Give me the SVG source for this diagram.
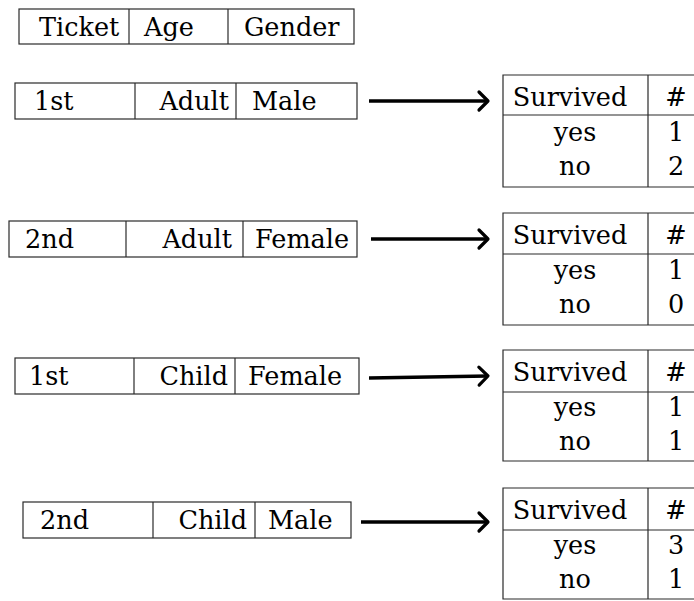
<svg xmlns="http://www.w3.org/2000/svg" width="694" height="601" viewBox="0 0 694 601">
<style>
  .b { fill: none; stroke: #2a2a2a; stroke-width: 1.2; }
  .t { font-family: "DejaVu Serif", "Liberation Serif", serif; font-size: 25.5px; fill: #000; }
  .m { text-anchor: middle; }
  .e { text-anchor: end; }
  .c { fill: none; stroke: #000; stroke-width: 3.4; }
</style>
<defs>
  <marker id="ah" markerUnits="userSpaceOnUse" markerWidth="16" markerHeight="24" refX="12" refY="12" orient="auto" viewBox="0 0 16 24">
    <path d="M3,3 Q9,9 12,12 Q9,15 3,21" fill="none" stroke="#000" stroke-width="3.2" stroke-linecap="round" stroke-linejoin="round"/>
  </marker>
</defs>
<rect width="694" height="601" fill="#fff"/>

<g id="header">
  <rect class="b" x="19" y="9" width="335" height="35"/>
  <line class="b" x1="129" y1="9" x2="129" y2="44"/>
  <line class="b" x1="228" y1="9" x2="228" y2="44"/>
  <text class="t" x="39" y="36">Ticket</text>
  <text class="t" x="144" y="36">Age</text>
  <text class="t" x="244" y="36">Gender</text>
</g>

<g id="row1">
  <rect class="b" x="15" y="83" width="342" height="36"/>
  <line class="b" x1="135" y1="83" x2="135" y2="119"/>
  <line class="b" x1="236" y1="83" x2="236" y2="119"/>
  <text class="t" x="34" y="110">1st</text>
  <text class="t e" x="229" y="110">Adult</text>
  <text class="t" x="252" y="110">Male</text>
</g>

<g id="row2">
  <rect class="b" x="9" y="221" width="348" height="36"/>
  <line class="b" x1="126" y1="221" x2="126" y2="257"/>
  <line class="b" x1="243" y1="221" x2="243" y2="257"/>
  <text class="t" x="25" y="248">2nd</text>
  <text class="t e" x="232" y="248">Adult</text>
  <text class="t" x="255" y="248">Female</text>
</g>

<g id="row3">
  <rect class="b" x="15" y="358" width="344" height="36"/>
  <line class="b" x1="134" y1="358" x2="134" y2="394"/>
  <line class="b" x1="235" y1="358" x2="235" y2="394"/>
  <text class="t" x="29" y="385">1st</text>
  <text class="t e" x="228" y="385">Child</text>
  <text class="t" x="248" y="385">Female</text>
</g>

<g id="row4">
  <rect class="b" x="23" y="502" width="328" height="36"/>
  <line class="b" x1="153" y1="502" x2="153" y2="538"/>
  <line class="b" x1="255" y1="502" x2="255" y2="538"/>
  <text class="t" x="40" y="529">2nd</text>
  <text class="t e" x="247" y="529">Child</text>
  <text class="t" x="268" y="529">Male</text>
</g>

<g id="table1">
  <path class="b" d="M700,75 H503 V187 H700 M503,115 H700 M648,75 V187"/>
  <text class="t m" x="570" y="106">Survived</text>
  <text class="t m" x="676" y="106">#</text>
  <text class="t m" x="575" y="141">yes</text>
  <text class="t m" x="676" y="141">1</text>
  <text class="t m" x="575" y="175">no</text>
  <text class="t m" x="676" y="175">2</text>
</g>

<g id="table2">
  <path class="b" d="M700,213 H503 V325 H700 M503,254 H700 M648,213 V325"/>
  <text class="t m" x="570" y="244">Survived</text>
  <text class="t m" x="676" y="244">#</text>
  <text class="t m" x="575" y="279">yes</text>
  <text class="t m" x="676" y="279">1</text>
  <text class="t m" x="575" y="313">no</text>
  <text class="t m" x="676" y="313">0</text>
</g>

<g id="table3">
  <path class="b" d="M700,350 H503 V461 H700 M503,392 H700 M648,350 V461"/>
  <text class="t m" x="570" y="381">Survived</text>
  <text class="t m" x="676" y="381">#</text>
  <text class="t m" x="575" y="416">yes</text>
  <text class="t m" x="676" y="416">1</text>
  <text class="t m" x="575" y="450">no</text>
  <text class="t m" x="676" y="450">1</text>
</g>

<g id="table4">
  <path class="b" d="M700,488 H503 V599 H700 M503,530 H700 M648,488 V599"/>
  <text class="t m" x="570" y="519">Survived</text>
  <text class="t m" x="676" y="519">#</text>
  <text class="t m" x="575" y="554">yes</text>
  <text class="t m" x="676" y="554">3</text>
  <text class="t m" x="575" y="588">no</text>
  <text class="t m" x="676" y="588">1</text>
</g>

<g id="connectors">
  <line class="c" x1="369" y1="101" x2="488" y2="101" marker-end="url(#ah)"/>
  <line class="c" x1="371" y1="239" x2="488" y2="239" marker-end="url(#ah)"/>
  <line class="c" x1="369" y1="378" x2="488" y2="376" marker-end="url(#ah)"/>
  <line class="c" x1="361" y1="522" x2="488" y2="522" marker-end="url(#ah)"/>
</g>
</svg>
